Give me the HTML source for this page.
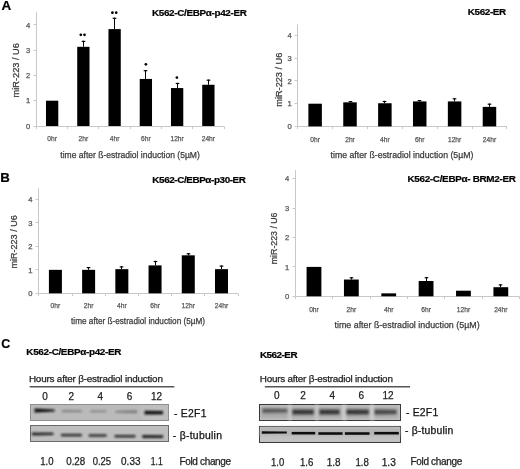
<!DOCTYPE html>
<html><head><meta charset="utf-8"><style>
html,body{margin:0;padding:0;background:#fff;width:520px;height:469px;overflow:hidden;font-family:"Liberation Sans",sans-serif;}
svg{display:block;will-change:transform}
</style></head><body>
<svg width="520" height="469" viewBox="0 0 520 469" font-family="Liberation Sans, sans-serif">
<defs><filter id="b6" x="-20%" y="-200%" width="140%" height="500%"><feGaussianBlur stdDeviation="0.6"/></filter><filter id="b7" x="-20%" y="-200%" width="140%" height="500%"><feGaussianBlur stdDeviation="0.7"/></filter><filter id="b8" x="-20%" y="-200%" width="140%" height="500%"><feGaussianBlur stdDeviation="0.8"/></filter><filter id="b10" x="-20%" y="-200%" width="140%" height="500%"><feGaussianBlur stdDeviation="1.0"/></filter><filter id="b12" x="-20%" y="-200%" width="140%" height="500%"><feGaussianBlur stdDeviation="1.2"/></filter><filter id="b14" x="-20%" y="-200%" width="140%" height="500%"><feGaussianBlur stdDeviation="1.4"/></filter></defs>
<filter id="gb" x="0" y="0" width="100%" height="100%"><feGaussianBlur stdDeviation="0.0"/></filter>
<rect width="520" height="469" fill="#fff"/>
<g><rect width="520" height="469" fill="#fff"/>
<text x="1.50" y="9.90" font-size="13" fill="#000" stroke="#000" stroke-width="0.2" font-weight="bold" textLength="9.70" lengthAdjust="spacingAndGlyphs">A</text>
<text x="152.01" y="15.80" font-size="9.9" fill="#000" stroke="#000" stroke-width="0.2" font-weight="bold" textLength="94.79" lengthAdjust="spacing">K562-C/EBPα-p42-ER</text>
<line x1="36.50" y1="12.00" x2="36.50" y2="126.50" stroke="#c8c8c8" stroke-width="1"/>
<line x1="36.50" y1="126.50" x2="224.00" y2="126.50" stroke="#c8c8c8" stroke-width="1"/>
<line x1="33.50" y1="126.50" x2="36.50" y2="126.50" stroke="#c8c8c8" stroke-width="1"/>
<text x="30.20" y="128.70" font-size="7.6" fill="#555555" stroke="#555555" stroke-width="0.25" text-anchor="end">0</text>
<line x1="33.50" y1="100.50" x2="36.50" y2="100.50" stroke="#c8c8c8" stroke-width="1"/>
<text x="30.20" y="103.40" font-size="7.6" fill="#555555" stroke="#555555" stroke-width="0.25" text-anchor="end">1</text>
<line x1="33.50" y1="75.50" x2="36.50" y2="75.50" stroke="#c8c8c8" stroke-width="1"/>
<text x="30.20" y="78.10" font-size="7.6" fill="#555555" stroke="#555555" stroke-width="0.25" text-anchor="end">2</text>
<line x1="33.50" y1="50.50" x2="36.50" y2="50.50" stroke="#c8c8c8" stroke-width="1"/>
<text x="30.20" y="52.80" font-size="7.6" fill="#555555" stroke="#555555" stroke-width="0.25" text-anchor="end">3</text>
<line x1="33.50" y1="24.50" x2="36.50" y2="24.50" stroke="#c8c8c8" stroke-width="1"/>
<text x="30.20" y="27.50" font-size="7.6" fill="#555555" stroke="#555555" stroke-width="0.25" text-anchor="end">4</text>
<line x1="36.50" y1="126.50" x2="36.50" y2="129.00" stroke="#c8c8c8" stroke-width="1"/>
<line x1="67.50" y1="126.50" x2="67.50" y2="129.00" stroke="#c8c8c8" stroke-width="1"/>
<line x1="98.50" y1="126.50" x2="98.50" y2="129.00" stroke="#c8c8c8" stroke-width="1"/>
<line x1="130.50" y1="126.50" x2="130.50" y2="129.00" stroke="#c8c8c8" stroke-width="1"/>
<line x1="161.50" y1="126.50" x2="161.50" y2="129.00" stroke="#c8c8c8" stroke-width="1"/>
<line x1="192.50" y1="126.50" x2="192.50" y2="129.00" stroke="#c8c8c8" stroke-width="1"/>
<line x1="224.50" y1="126.50" x2="224.50" y2="129.00" stroke="#c8c8c8" stroke-width="1"/>
<rect x="45.98" y="100.70" width="12.30" height="25.30" fill="#000"/>
<rect x="77.22" y="46.81" width="12.30" height="79.19" fill="#000"/>
<line x1="83.50" y1="40.80" x2="83.50" y2="46.81" stroke="#000" stroke-width="1"/>
<line x1="81.70" y1="41.40" x2="85.30" y2="41.40" stroke="#000" stroke-width="1.2"/>
<circle cx="80.8" cy="34.8" r="1.35" fill="#000"/>
<circle cx="84.5" cy="34.8" r="1.35" fill="#000"/>
<rect x="108.47" y="29.10" width="12.30" height="96.90" fill="#000"/>
<line x1="114.50" y1="17.70" x2="114.50" y2="29.10" stroke="#000" stroke-width="1"/>
<line x1="112.70" y1="18.30" x2="116.30" y2="18.30" stroke="#000" stroke-width="1.2"/>
<circle cx="112.4" cy="12.7" r="1.35" fill="#000"/>
<circle cx="116.2" cy="12.7" r="1.35" fill="#000"/>
<rect x="139.72" y="78.94" width="12.30" height="47.06" fill="#000"/>
<line x1="145.50" y1="70.10" x2="145.50" y2="78.94" stroke="#000" stroke-width="1"/>
<line x1="143.70" y1="70.70" x2="147.30" y2="70.70" stroke="#000" stroke-width="1.2"/>
<circle cx="145.9" cy="64.3" r="1.35" fill="#000"/>
<rect x="170.97" y="88.05" width="12.30" height="37.95" fill="#000"/>
<line x1="177.50" y1="82.90" x2="177.50" y2="88.05" stroke="#000" stroke-width="1"/>
<line x1="175.70" y1="83.50" x2="179.30" y2="83.50" stroke="#000" stroke-width="1.2"/>
<circle cx="176.9" cy="77.6" r="1.35" fill="#000"/>
<rect x="202.22" y="84.76" width="12.30" height="41.24" fill="#000"/>
<line x1="208.50" y1="79.60" x2="208.50" y2="84.76" stroke="#000" stroke-width="1"/>
<line x1="206.70" y1="80.20" x2="210.30" y2="80.20" stroke="#000" stroke-width="1.2"/>
<text x="52.12" y="141.00" font-size="7.4" fill="#555555" stroke="#555555" stroke-width="0.25" textLength="9.62" lengthAdjust="spacingAndGlyphs" text-anchor="middle">0hr</text>
<text x="83.38" y="141.00" font-size="7.4" fill="#555555" stroke="#555555" stroke-width="0.25" textLength="9.62" lengthAdjust="spacingAndGlyphs" text-anchor="middle">2hr</text>
<text x="114.62" y="141.00" font-size="7.4" fill="#555555" stroke="#555555" stroke-width="0.25" textLength="9.62" lengthAdjust="spacingAndGlyphs" text-anchor="middle">4hr</text>
<text x="145.88" y="141.00" font-size="7.4" fill="#555555" stroke="#555555" stroke-width="0.25" textLength="9.62" lengthAdjust="spacingAndGlyphs" text-anchor="middle">6hr</text>
<text x="177.12" y="141.00" font-size="7.4" fill="#555555" stroke="#555555" stroke-width="0.25" textLength="13.33" lengthAdjust="spacingAndGlyphs" text-anchor="middle">12hr</text>
<text x="208.38" y="141.00" font-size="7.4" fill="#555555" stroke="#555555" stroke-width="0.25" textLength="13.33" lengthAdjust="spacingAndGlyphs" text-anchor="middle">24hr</text>
<text x="60.30" y="157.60" font-size="9.0" fill="#3a3a3a" stroke="#3a3a3a" stroke-width="0.25" textLength="139.50" lengthAdjust="spacingAndGlyphs">time after ß-estradiol induction (5µM)</text>
<text transform="translate(19.40,97.40) rotate(-90)" x="0" y="0" font-size="9.0" fill="#3a3a3a" stroke="#3a3a3a" stroke-width="0.25" textLength="54.30" lengthAdjust="spacingAndGlyphs">miR-223 / U6</text>
<text x="467.81" y="14.50" font-size="9.9" fill="#000" stroke="#000" stroke-width="0.2" font-weight="bold" textLength="38.38" lengthAdjust="spacing">K562-ER</text>
<line x1="297.50" y1="24.40" x2="297.50" y2="126.50" stroke="#c8c8c8" stroke-width="1"/>
<line x1="297.50" y1="126.50" x2="506.90" y2="126.50" stroke="#c8c8c8" stroke-width="1"/>
<line x1="294.50" y1="126.50" x2="297.50" y2="126.50" stroke="#c8c8c8" stroke-width="1"/>
<text x="291.80" y="129.10" font-size="7.6" fill="#555555" stroke="#555555" stroke-width="0.25" text-anchor="end">0</text>
<line x1="294.50" y1="103.50" x2="297.50" y2="103.50" stroke="#c8c8c8" stroke-width="1"/>
<text x="291.80" y="106.40" font-size="7.6" fill="#555555" stroke="#555555" stroke-width="0.25" text-anchor="end">1</text>
<line x1="294.50" y1="80.50" x2="297.50" y2="80.50" stroke="#c8c8c8" stroke-width="1"/>
<text x="291.80" y="83.70" font-size="7.6" fill="#555555" stroke="#555555" stroke-width="0.25" text-anchor="end">2</text>
<line x1="294.50" y1="58.50" x2="297.50" y2="58.50" stroke="#c8c8c8" stroke-width="1"/>
<text x="291.80" y="61.00" font-size="7.6" fill="#555555" stroke="#555555" stroke-width="0.25" text-anchor="end">3</text>
<line x1="294.50" y1="35.50" x2="297.50" y2="35.50" stroke="#c8c8c8" stroke-width="1"/>
<text x="291.80" y="38.30" font-size="7.6" fill="#555555" stroke="#555555" stroke-width="0.25" text-anchor="end">4</text>
<line x1="297.50" y1="126.50" x2="297.50" y2="129.00" stroke="#c8c8c8" stroke-width="1"/>
<line x1="332.50" y1="126.50" x2="332.50" y2="129.00" stroke="#c8c8c8" stroke-width="1"/>
<line x1="367.50" y1="126.50" x2="367.50" y2="129.00" stroke="#c8c8c8" stroke-width="1"/>
<line x1="402.50" y1="126.50" x2="402.50" y2="129.00" stroke="#c8c8c8" stroke-width="1"/>
<line x1="437.50" y1="126.50" x2="437.50" y2="129.00" stroke="#c8c8c8" stroke-width="1"/>
<line x1="472.50" y1="126.50" x2="472.50" y2="129.00" stroke="#c8c8c8" stroke-width="1"/>
<line x1="506.50" y1="126.50" x2="506.50" y2="129.00" stroke="#c8c8c8" stroke-width="1"/>
<rect x="308.38" y="103.70" width="13.50" height="22.70" fill="#000"/>
<rect x="343.25" y="102.34" width="13.50" height="24.06" fill="#000"/>
<line x1="350.50" y1="101.00" x2="350.50" y2="102.34" stroke="#000" stroke-width="1"/>
<line x1="348.70" y1="101.60" x2="352.30" y2="101.60" stroke="#000" stroke-width="1.2"/>
<rect x="378.12" y="103.25" width="13.50" height="23.15" fill="#000"/>
<line x1="384.50" y1="100.90" x2="384.50" y2="103.25" stroke="#000" stroke-width="1"/>
<line x1="382.70" y1="101.50" x2="386.30" y2="101.50" stroke="#000" stroke-width="1.2"/>
<rect x="412.98" y="101.43" width="13.50" height="24.97" fill="#000"/>
<line x1="419.50" y1="100.00" x2="419.50" y2="101.43" stroke="#000" stroke-width="1"/>
<line x1="417.70" y1="100.60" x2="421.30" y2="100.60" stroke="#000" stroke-width="1.2"/>
<rect x="447.85" y="101.43" width="13.50" height="24.97" fill="#000"/>
<line x1="454.50" y1="98.20" x2="454.50" y2="101.43" stroke="#000" stroke-width="1"/>
<line x1="452.70" y1="98.80" x2="456.30" y2="98.80" stroke="#000" stroke-width="1.2"/>
<rect x="482.72" y="106.88" width="13.50" height="19.52" fill="#000"/>
<line x1="489.50" y1="103.60" x2="489.50" y2="106.88" stroke="#000" stroke-width="1"/>
<line x1="487.70" y1="104.20" x2="491.30" y2="104.20" stroke="#000" stroke-width="1.2"/>
<text x="315.13" y="141.80" font-size="7.4" fill="#555555" stroke="#555555" stroke-width="0.25" textLength="9.62" lengthAdjust="spacingAndGlyphs" text-anchor="middle">0hr</text>
<text x="350.00" y="141.80" font-size="7.4" fill="#555555" stroke="#555555" stroke-width="0.25" textLength="9.62" lengthAdjust="spacingAndGlyphs" text-anchor="middle">2hr</text>
<text x="384.87" y="141.80" font-size="7.4" fill="#555555" stroke="#555555" stroke-width="0.25" textLength="9.62" lengthAdjust="spacingAndGlyphs" text-anchor="middle">4hr</text>
<text x="419.73" y="141.80" font-size="7.4" fill="#555555" stroke="#555555" stroke-width="0.25" textLength="9.62" lengthAdjust="spacingAndGlyphs" text-anchor="middle">6hr</text>
<text x="454.60" y="141.80" font-size="7.4" fill="#555555" stroke="#555555" stroke-width="0.25" textLength="13.33" lengthAdjust="spacingAndGlyphs" text-anchor="middle">12hr</text>
<text x="489.47" y="141.80" font-size="7.4" fill="#555555" stroke="#555555" stroke-width="0.25" textLength="13.33" lengthAdjust="spacingAndGlyphs" text-anchor="middle">24hr</text>
<text x="330.60" y="157.60" font-size="9.0" fill="#3a3a3a" stroke="#3a3a3a" stroke-width="0.25" textLength="142.80" lengthAdjust="spacingAndGlyphs">time after ß-estradiol induction (5µM)</text>
<text transform="translate(281.50,106.70) rotate(-90)" x="0" y="0" font-size="9.0" fill="#3a3a3a" stroke="#3a3a3a" stroke-width="0.25" textLength="54.00" lengthAdjust="spacingAndGlyphs">miR-223 / U6</text>
<text x="0.17" y="182.40" font-size="13.4" fill="#000" stroke="#000" stroke-width="0.2" font-weight="bold" textLength="9.59" lengthAdjust="spacingAndGlyphs">B</text>
<text x="152.31" y="183.10" font-size="9.9" fill="#000" stroke="#000" stroke-width="0.2" font-weight="bold" textLength="93.62" lengthAdjust="spacing">K562-C/EBPα-p30-ER</text>
<line x1="38.50" y1="188.00" x2="38.50" y2="293.50" stroke="#c8c8c8" stroke-width="1"/>
<line x1="38.50" y1="293.50" x2="238.10" y2="293.50" stroke="#c8c8c8" stroke-width="1"/>
<line x1="35.50" y1="293.50" x2="38.50" y2="293.50" stroke="#c8c8c8" stroke-width="1"/>
<text x="32.50" y="296.00" font-size="7.6" fill="#555555" stroke="#555555" stroke-width="0.25" text-anchor="end">0</text>
<line x1="35.50" y1="269.50" x2="38.50" y2="269.50" stroke="#c8c8c8" stroke-width="1"/>
<text x="32.50" y="272.55" font-size="7.6" fill="#555555" stroke="#555555" stroke-width="0.25" text-anchor="end">1</text>
<line x1="35.50" y1="246.50" x2="38.50" y2="246.50" stroke="#c8c8c8" stroke-width="1"/>
<text x="32.50" y="249.10" font-size="7.6" fill="#555555" stroke="#555555" stroke-width="0.25" text-anchor="end">2</text>
<line x1="35.50" y1="222.50" x2="38.50" y2="222.50" stroke="#c8c8c8" stroke-width="1"/>
<text x="32.50" y="225.65" font-size="7.6" fill="#555555" stroke="#555555" stroke-width="0.25" text-anchor="end">3</text>
<line x1="35.50" y1="199.50" x2="38.50" y2="199.50" stroke="#c8c8c8" stroke-width="1"/>
<text x="32.50" y="202.20" font-size="7.6" fill="#555555" stroke="#555555" stroke-width="0.25" text-anchor="end">4</text>
<line x1="38.50" y1="293.50" x2="38.50" y2="296.00" stroke="#c8c8c8" stroke-width="1"/>
<line x1="72.50" y1="293.50" x2="72.50" y2="296.00" stroke="#c8c8c8" stroke-width="1"/>
<line x1="105.50" y1="293.50" x2="105.50" y2="296.00" stroke="#c8c8c8" stroke-width="1"/>
<line x1="138.50" y1="293.50" x2="138.50" y2="296.00" stroke="#c8c8c8" stroke-width="1"/>
<line x1="171.50" y1="293.50" x2="171.50" y2="296.00" stroke="#c8c8c8" stroke-width="1"/>
<line x1="204.50" y1="293.50" x2="204.50" y2="296.00" stroke="#c8c8c8" stroke-width="1"/>
<line x1="238.50" y1="293.50" x2="238.50" y2="296.00" stroke="#c8c8c8" stroke-width="1"/>
<rect x="48.91" y="269.85" width="13.00" height="23.45" fill="#000"/>
<rect x="82.12" y="269.85" width="13.00" height="23.45" fill="#000"/>
<line x1="88.50" y1="267.00" x2="88.50" y2="269.85" stroke="#000" stroke-width="1"/>
<line x1="86.70" y1="267.60" x2="90.30" y2="267.60" stroke="#000" stroke-width="1.2"/>
<rect x="115.34" y="269.15" width="13.00" height="24.15" fill="#000"/>
<line x1="121.50" y1="266.30" x2="121.50" y2="269.15" stroke="#000" stroke-width="1"/>
<line x1="119.70" y1="266.90" x2="123.30" y2="266.90" stroke="#000" stroke-width="1.2"/>
<rect x="148.56" y="265.39" width="13.00" height="27.91" fill="#000"/>
<line x1="155.50" y1="260.90" x2="155.50" y2="265.39" stroke="#000" stroke-width="1"/>
<line x1="153.70" y1="261.50" x2="157.30" y2="261.50" stroke="#000" stroke-width="1.2"/>
<rect x="181.78" y="255.31" width="13.00" height="37.99" fill="#000"/>
<line x1="188.50" y1="253.20" x2="188.50" y2="255.31" stroke="#000" stroke-width="1"/>
<line x1="186.70" y1="253.80" x2="190.30" y2="253.80" stroke="#000" stroke-width="1.2"/>
<rect x="214.99" y="269.15" width="13.00" height="24.15" fill="#000"/>
<line x1="221.50" y1="265.50" x2="221.50" y2="269.15" stroke="#000" stroke-width="1"/>
<line x1="219.70" y1="266.10" x2="223.30" y2="266.10" stroke="#000" stroke-width="1.2"/>
<text x="55.41" y="308.30" font-size="7.4" fill="#555555" stroke="#555555" stroke-width="0.25" textLength="9.62" lengthAdjust="spacingAndGlyphs" text-anchor="middle">0hr</text>
<text x="88.62" y="308.30" font-size="7.4" fill="#555555" stroke="#555555" stroke-width="0.25" textLength="9.62" lengthAdjust="spacingAndGlyphs" text-anchor="middle">2hr</text>
<text x="121.84" y="308.30" font-size="7.4" fill="#555555" stroke="#555555" stroke-width="0.25" textLength="9.62" lengthAdjust="spacingAndGlyphs" text-anchor="middle">4hr</text>
<text x="155.06" y="308.30" font-size="7.4" fill="#555555" stroke="#555555" stroke-width="0.25" textLength="9.62" lengthAdjust="spacingAndGlyphs" text-anchor="middle">6hr</text>
<text x="188.28" y="308.30" font-size="7.4" fill="#555555" stroke="#555555" stroke-width="0.25" textLength="13.33" lengthAdjust="spacingAndGlyphs" text-anchor="middle">12hr</text>
<text x="221.49" y="308.30" font-size="7.4" fill="#555555" stroke="#555555" stroke-width="0.25" textLength="13.33" lengthAdjust="spacingAndGlyphs" text-anchor="middle">24hr</text>
<text x="71.10" y="323.80" font-size="9.0" fill="#3a3a3a" stroke="#3a3a3a" stroke-width="0.25" textLength="133.90" lengthAdjust="spacingAndGlyphs">time after ß-estradiol induction (5µM)</text>
<text transform="translate(17.20,268.50) rotate(-90)" x="0" y="0" font-size="9.0" fill="#3a3a3a" stroke="#3a3a3a" stroke-width="0.25" textLength="53.20" lengthAdjust="spacingAndGlyphs">miR-223 / U6</text>
<text x="407.41" y="182.10" font-size="9.9" fill="#000" stroke="#000" stroke-width="0.2" font-weight="bold" textLength="108.50" lengthAdjust="spacing">K562-C/EBPα- BRM2-ER</text>
<line x1="295.50" y1="170.20" x2="295.50" y2="296.50" stroke="#c8c8c8" stroke-width="1"/>
<line x1="295.50" y1="296.50" x2="519.50" y2="296.50" stroke="#c8c8c8" stroke-width="1"/>
<line x1="292.50" y1="296.50" x2="295.50" y2="296.50" stroke="#c8c8c8" stroke-width="1"/>
<text x="289.30" y="299.00" font-size="7.6" fill="#555555" stroke="#555555" stroke-width="0.25" text-anchor="end">0</text>
<line x1="292.50" y1="266.50" x2="295.50" y2="266.50" stroke="#c8c8c8" stroke-width="1"/>
<text x="289.30" y="269.60" font-size="7.6" fill="#555555" stroke="#555555" stroke-width="0.25" text-anchor="end">1</text>
<line x1="292.50" y1="237.50" x2="295.50" y2="237.50" stroke="#c8c8c8" stroke-width="1"/>
<text x="289.30" y="240.20" font-size="7.6" fill="#555555" stroke="#555555" stroke-width="0.25" text-anchor="end">2</text>
<line x1="292.50" y1="208.50" x2="295.50" y2="208.50" stroke="#c8c8c8" stroke-width="1"/>
<text x="289.30" y="210.80" font-size="7.6" fill="#555555" stroke="#555555" stroke-width="0.25" text-anchor="end">3</text>
<line x1="292.50" y1="178.50" x2="295.50" y2="178.50" stroke="#c8c8c8" stroke-width="1"/>
<text x="289.30" y="181.40" font-size="7.6" fill="#555555" stroke="#555555" stroke-width="0.25" text-anchor="end">4</text>
<line x1="295.50" y1="296.50" x2="295.50" y2="299.00" stroke="#c8c8c8" stroke-width="1"/>
<line x1="332.50" y1="296.50" x2="332.50" y2="299.00" stroke="#c8c8c8" stroke-width="1"/>
<line x1="370.50" y1="296.50" x2="370.50" y2="299.00" stroke="#c8c8c8" stroke-width="1"/>
<line x1="407.50" y1="296.50" x2="407.50" y2="299.00" stroke="#c8c8c8" stroke-width="1"/>
<line x1="444.50" y1="296.50" x2="444.50" y2="299.00" stroke="#c8c8c8" stroke-width="1"/>
<line x1="482.50" y1="296.50" x2="482.50" y2="299.00" stroke="#c8c8c8" stroke-width="1"/>
<line x1="519.50" y1="296.50" x2="519.50" y2="299.00" stroke="#c8c8c8" stroke-width="1"/>
<rect x="306.58" y="266.90" width="14.80" height="29.40" fill="#000"/>
<rect x="343.95" y="279.54" width="14.80" height="16.76" fill="#000"/>
<line x1="351.50" y1="277.20" x2="351.50" y2="279.54" stroke="#000" stroke-width="1"/>
<line x1="349.70" y1="277.80" x2="353.30" y2="277.80" stroke="#000" stroke-width="1.2"/>
<rect x="381.32" y="293.36" width="14.80" height="2.94" fill="#000"/>
<rect x="418.68" y="281.01" width="14.80" height="15.29" fill="#000"/>
<line x1="426.50" y1="277.10" x2="426.50" y2="281.01" stroke="#000" stroke-width="1"/>
<line x1="424.70" y1="277.70" x2="428.30" y2="277.70" stroke="#000" stroke-width="1.2"/>
<rect x="456.05" y="290.71" width="14.80" height="5.59" fill="#000"/>
<rect x="493.42" y="287.19" width="14.80" height="9.11" fill="#000"/>
<line x1="500.50" y1="284.30" x2="500.50" y2="287.19" stroke="#000" stroke-width="1"/>
<line x1="498.70" y1="284.90" x2="502.30" y2="284.90" stroke="#000" stroke-width="1.2"/>
<text x="313.98" y="311.50" font-size="7.4" fill="#555555" stroke="#555555" stroke-width="0.25" textLength="9.62" lengthAdjust="spacingAndGlyphs" text-anchor="middle">0hr</text>
<text x="351.35" y="311.50" font-size="7.4" fill="#555555" stroke="#555555" stroke-width="0.25" textLength="9.62" lengthAdjust="spacingAndGlyphs" text-anchor="middle">2hr</text>
<text x="388.72" y="311.50" font-size="7.4" fill="#555555" stroke="#555555" stroke-width="0.25" textLength="9.62" lengthAdjust="spacingAndGlyphs" text-anchor="middle">4hr</text>
<text x="426.08" y="311.50" font-size="7.4" fill="#555555" stroke="#555555" stroke-width="0.25" textLength="9.62" lengthAdjust="spacingAndGlyphs" text-anchor="middle">6hr</text>
<text x="463.45" y="311.50" font-size="7.4" fill="#555555" stroke="#555555" stroke-width="0.25" textLength="13.33" lengthAdjust="spacingAndGlyphs" text-anchor="middle">12hr</text>
<text x="500.82" y="311.50" font-size="7.4" fill="#555555" stroke="#555555" stroke-width="0.25" textLength="13.33" lengthAdjust="spacingAndGlyphs" text-anchor="middle">24hr</text>
<text x="334.50" y="327.80" font-size="9.0" fill="#3a3a3a" stroke="#3a3a3a" stroke-width="0.25" textLength="145.10" lengthAdjust="spacingAndGlyphs">time after ß-estradiol induction (5µM)</text>
<text transform="translate(277.20,264.20) rotate(-90)" x="0" y="0" font-size="9.0" fill="#3a3a3a" stroke="#3a3a3a" stroke-width="0.25" textLength="51.70" lengthAdjust="spacingAndGlyphs">miR-223 / U6</text>
<text x="1.20" y="347.70" font-size="13" fill="#000" stroke="#000" stroke-width="0.2" font-weight="bold" textLength="9.00" lengthAdjust="spacingAndGlyphs">C</text>
<text x="26.31" y="354.50" font-size="9.9" fill="#000" stroke="#000" stroke-width="0.2" font-weight="bold" textLength="95.10" lengthAdjust="spacing">K562-C/EBPα-p42-ER</text>
<text x="28.91" y="381.90" font-size="9.9" fill="#222" stroke="#222" stroke-width="0.25" textLength="134.01" lengthAdjust="spacing">Hours after β-estradiol induction</text>
<line x1="29.70" y1="386.80" x2="174.30" y2="386.80" stroke="#555" stroke-width="1.4"/>
<text x="45.10" y="399.70" font-size="10" fill="#222" stroke="#222" stroke-width="0.25" text-anchor="middle">0</text>
<text x="71.20" y="399.70" font-size="10" fill="#222" stroke="#222" stroke-width="0.25" text-anchor="middle">2</text>
<text x="100.30" y="399.70" font-size="10" fill="#222" stroke="#222" stroke-width="0.25" text-anchor="middle">4</text>
<text x="129.60" y="399.70" font-size="10" fill="#222" stroke="#222" stroke-width="0.25" text-anchor="middle">6</text>
<text x="156.50" y="399.70" font-size="10" fill="#222" stroke="#222" stroke-width="0.25" text-anchor="middle">12</text>
<text x="40.34" y="465.20" font-size="10" fill="#222" stroke="#222" stroke-width="0.25" textLength="13.24" lengthAdjust="spacingAndGlyphs">1.0</text>
<text x="66.21" y="465.20" font-size="10" fill="#222" stroke="#222" stroke-width="0.25" textLength="19.04" lengthAdjust="spacingAndGlyphs">0.28</text>
<text x="92.72" y="465.20" font-size="10" fill="#222" stroke="#222" stroke-width="0.25" textLength="18.42" lengthAdjust="spacingAndGlyphs">0.25</text>
<text x="121.10" y="465.20" font-size="10" fill="#222" stroke="#222" stroke-width="0.25" textLength="19.36" lengthAdjust="spacingAndGlyphs">0.33</text>
<text x="150.81" y="465.20" font-size="10" fill="#222" stroke="#222" stroke-width="0.25" textLength="11.91" lengthAdjust="spacingAndGlyphs">1.1</text>
<text x="173.88" y="416.90" font-size="10.4" fill="#111" stroke="#111" stroke-width="0.25" textLength="32.57" lengthAdjust="spacing">- E2F1</text>
<text x="172.78" y="438.80" font-size="10.4" fill="#111" stroke="#111" stroke-width="0.25" textLength="49.14" lengthAdjust="spacing">- β-tubulin</text>
<text x="179.40" y="464.90" font-size="10" fill="#222" stroke="#222" stroke-width="0.25" textLength="51.73" lengthAdjust="spacing">Fold change</text>
<rect x="30.50" y="404.50" width="138.00" height="16.00" fill="#bababa" stroke="#8f8f8f" stroke-width="1"/>
<rect x="141.00" y="405.00" width="27.00" height="15.00" fill="#bebebe"/>
<path d="M34.5,408.60 L54.5,409.60 L54.5,411.40 L34.5,412.40 Z" fill="#111" opacity="1" filter="url(#b10)"/>
<path d="M62.0,410.30 L82.0,410.40 L82.0,412.00 L62.0,412.10 Z" fill="#111" opacity="0.4" filter="url(#b8)"/>
<path d="M90.5,410.40 L106.5,410.50 L106.5,412.10 L90.5,412.20 Z" fill="#111" opacity="0.35" filter="url(#b8)"/>
<path d="M115.5,411.00 L137.0,410.60 L137.0,413.00 L115.5,412.60 Z" fill="#111" opacity="0.42" filter="url(#b8)"/>
<path d="M144.5,410.80 L163.0,411.00 L163.0,414.20 L144.5,414.40 Z" fill="#111" opacity="1" filter="url(#b10)"/>
<rect x="30.50" y="425.50" width="138.00" height="16.00" fill="#bebebe" stroke="#6a6a6a" stroke-width="1"/>
<path d="M32.0,432.40 L53.4,432.80 L53.4,435.00 L32.0,435.40 Z" fill="#111" opacity="0.9" filter="url(#b8)"/>
<path d="M61.0,433.90 L81.8,433.90 L81.8,436.30 L61.0,436.30 Z" fill="#111" opacity="0.85" filter="url(#b8)"/>
<path d="M88.8,434.30 L106.5,434.30 L106.5,436.70 L88.8,436.70 Z" fill="#111" opacity="0.85" filter="url(#b8)"/>
<path d="M114.6,435.00 L135.4,435.00 L135.4,437.40 L114.6,437.40 Z" fill="#111" opacity="0.85" filter="url(#b8)"/>
<path d="M142.3,435.10 L163.1,435.20 L163.1,438.00 L142.3,438.10 Z" fill="#111" opacity="0.9" filter="url(#b8)"/>
<text x="259.91" y="357.50" font-size="9.9" fill="#000" stroke="#000" stroke-width="0.2" font-weight="bold" textLength="37.68" lengthAdjust="spacing">K562-ER</text>
<text x="259.71" y="381.50" font-size="9.9" fill="#222" stroke="#222" stroke-width="0.25" textLength="133.18" lengthAdjust="spacing">Hours after β-estradiol induction</text>
<line x1="264.80" y1="386.80" x2="410.00" y2="386.80" stroke="#555" stroke-width="1.4"/>
<text x="276.70" y="398.80" font-size="10" fill="#222" stroke="#222" stroke-width="0.25" text-anchor="middle">0</text>
<text x="303.00" y="398.80" font-size="10" fill="#222" stroke="#222" stroke-width="0.25" text-anchor="middle">2</text>
<text x="332.30" y="398.80" font-size="10" fill="#222" stroke="#222" stroke-width="0.25" text-anchor="middle">4</text>
<text x="361.30" y="398.80" font-size="10" fill="#222" stroke="#222" stroke-width="0.25" text-anchor="middle">6</text>
<text x="388.10" y="398.80" font-size="10" fill="#222" stroke="#222" stroke-width="0.25" text-anchor="middle">12</text>
<text x="270.94" y="466.00" font-size="10" fill="#222" stroke="#222" stroke-width="0.25" textLength="13.24" lengthAdjust="spacingAndGlyphs">1.0</text>
<text x="299.93" y="466.00" font-size="10" fill="#222" stroke="#222" stroke-width="0.25" textLength="13.35" lengthAdjust="spacingAndGlyphs">1.6</text>
<text x="326.81" y="466.00" font-size="10" fill="#222" stroke="#222" stroke-width="0.25" textLength="13.79" lengthAdjust="spacingAndGlyphs">1.8</text>
<text x="355.43" y="466.00" font-size="10" fill="#222" stroke="#222" stroke-width="0.25" textLength="13.46" lengthAdjust="spacingAndGlyphs">1.8</text>
<text x="381.69" y="466.00" font-size="10" fill="#222" stroke="#222" stroke-width="0.25" textLength="14.12" lengthAdjust="spacingAndGlyphs">1.3</text>
<text x="405.88" y="416.10" font-size="10.4" fill="#111" stroke="#111" stroke-width="0.25" textLength="32.33" lengthAdjust="spacing">- E2F1</text>
<text x="404.88" y="434.20" font-size="10.4" fill="#111" stroke="#111" stroke-width="0.25" textLength="48.48" lengthAdjust="spacing">- β-tubulin</text>
<text x="410.50" y="464.70" font-size="10" fill="#222" stroke="#222" stroke-width="0.25" textLength="51.73" lengthAdjust="spacing">Fold change</text>
<rect x="259.50" y="404.50" width="141.00" height="16.00" fill="#bfbfbf" stroke="#3a3a3a" stroke-width="1"/>
<rect x="342.00" y="405.00" width="4.50" height="15.00" fill="#cdcdcd" filter="url(#b8)"/>
<rect x="370.00" y="405.00" width="4.50" height="15.00" fill="#cdcdcd" filter="url(#b8)"/>
<rect x="288.00" y="405.00" width="4.00" height="15.00" fill="#c9c9c9" filter="url(#b8)"/>
<rect x="315.00" y="405.00" width="4.00" height="15.00" fill="#c9c9c9" filter="url(#b8)"/>
<path d="M261.0,407.00 L288.0,407.00 L288.0,418.00 L261.0,418.00 Z" fill="#111" opacity="0.12" filter="url(#b14)"/>
<path d="M291.0,407.00 L315.0,407.00 L315.0,418.00 L291.0,418.00 Z" fill="#111" opacity="0.12" filter="url(#b14)"/>
<path d="M318.0,407.00 L341.5,407.00 L341.5,418.00 L318.0,418.00 Z" fill="#111" opacity="0.12" filter="url(#b14)"/>
<path d="M346.0,407.00 L369.5,407.00 L369.5,418.00 L346.0,418.00 Z" fill="#111" opacity="0.12" filter="url(#b14)"/>
<path d="M374.0,407.00 L398.0,407.00 L398.0,418.00 L374.0,418.00 Z" fill="#111" opacity="0.12" filter="url(#b14)"/>
<path d="M262.5,408.50 L287.5,409.00 L287.5,412.60 L262.5,413.10 Z" fill="#111" opacity="0.5" filter="url(#b12)"/>
<path d="M292.5,409.50 L313.7,409.80 L313.7,414.20 L292.5,414.50 Z" fill="#111" opacity="0.72" filter="url(#b12)"/>
<path d="M319.5,409.50 L339.5,409.80 L339.5,414.20 L319.5,414.50 Z" fill="#111" opacity="0.72" filter="url(#b12)"/>
<path d="M346.5,409.50 L368.8,409.80 L368.8,414.20 L346.5,414.50 Z" fill="#111" opacity="0.72" filter="url(#b12)"/>
<path d="M374.5,409.60 L396.5,409.90 L396.5,414.10 L374.5,414.40 Z" fill="#111" opacity="0.6" filter="url(#b12)"/>
<rect x="259.50" y="426.50" width="141.00" height="16.00" fill="#c2c2c2" stroke="#3a3a3a" stroke-width="1"/>
<rect x="260.00" y="427.00" width="140.00" height="9.00" fill="#b4b4b4" filter="url(#b14)"/>
<path d="M261.8,431.20 L286.8,431.40 L286.8,433.60 L261.8,433.80 Z" fill="#111" opacity="1" filter="url(#b7)"/>
<path d="M291.7,431.90 L315.2,431.90 L315.2,434.50 L291.7,434.50 Z" fill="#111" opacity="1" filter="url(#b7)"/>
<path d="M318.3,432.20 L342.6,432.20 L342.6,434.80 L318.3,434.80 Z" fill="#111" opacity="1" filter="url(#b7)"/>
<path d="M344.9,432.20 L369.5,432.20 L369.5,434.80 L344.9,434.80 Z" fill="#111" opacity="1" filter="url(#b7)"/>
<path d="M374.2,431.90 L398.8,431.90 L398.8,434.50 L374.2,434.50 Z" fill="#111" opacity="1" filter="url(#b7)"/>
</g></svg>
</body></html>
